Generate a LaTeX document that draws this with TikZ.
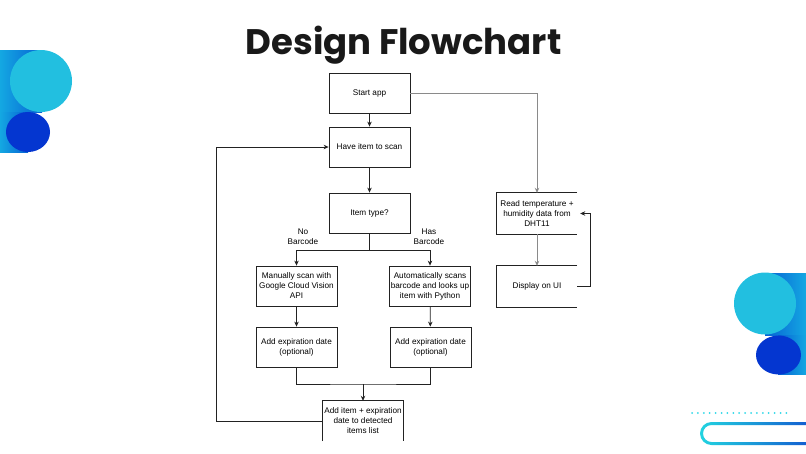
\documentclass[tikz,border=0pt]{standalone}
\usepackage{fontspec}
\setmainfont{Liberation Sans}
\newfontfamily\titlefont{Poppins}
\usetikzlibrary{arrows.meta}
\definecolor{cyanL}{HTML}{22BFE0}
\definecolor{darkB}{HTML}{0436D0}
\definecolor{barA}{HTML}{14A8E2}
\definecolor{barB}{HTML}{0762D4}
\definecolor{dotc}{HTML}{2ED8E8}
\definecolor{ringA}{HTML}{22D3E0}
\definecolor{ringB}{HTML}{1040CC}
\definecolor{linec}{HTML}{222222}
\definecolor{greyline}{HTML}{8A8A8A}
\begin{document}
\begin{tikzpicture}[x=1pt,y=-1pt,
  box/.style={draw=linec, line width=0.8pt, minimum width=81pt, minimum height=40pt,
    align=center, inner sep=1pt, font=\fontsize{8.2}{10}\selectfont},
  openbox/.style={minimum width=80pt, minimum height=41pt,
    align=center, inner sep=1pt, font=\fontsize{8.2}{10}\selectfont},
  lbl/.style={align=center, inner sep=0pt, font=\fontsize{8.2}{10}\selectfont},
  conn/.style={draw=linec, line width=0.8pt},
  arr/.style={conn, -{Stealth[length=5pt,width=4.5pt]}},
  garr/.style={draw=greyline, line width=0.8pt, -{Stealth[length=5pt,width=4.5pt]}, color=greyline}
]
\useasboundingbox (0,0) rectangle (806,453);
\fill[white] (0,0) rectangle (806,453);

\begin{scope}
\clip (0,0) rectangle (806,453);
% left decoration
\shade[left color=barA, right color=barB] (0,50) rectangle (42,112);
\shade[left color=barA, right color=barB] (0,112) rectangle (28,152);
\fill[cyanL] (41,81) circle (31pt);
\fill[darkB] (28,132) ellipse (22pt and 20pt);
% right decoration
\shade[left color=barB, right color=barA] (765,273) rectangle (806,335);
\shade[left color=barB, right color=barA] (778,335) rectangle (806,374);
\fill[cyanL] (765,303.5) circle (31pt);
\fill[darkB] (778.5,355) ellipse (22.5pt and 19.5pt);
% dotted line
\foreach \i in {0,...,16} \fill[dotc] (692+\i*5.9,413) circle (1pt);
% ring
\shade[left color=ringA, right color=ringB, even odd rule]
  {[rounded corners=11.5pt] (700,422) rectangle (835,445)}
  {[rounded corners=8.5pt] (703,425) rectangle (832,442)};
\end{scope}

% title
\node[anchor=base, inner sep=0pt, font=\titlefont\bfseries\fontsize{35.5}{40}\selectfont, text=black!90] (title) at (403.5,54) {Design Flowchart};

% boxes
\node[box] (start) at (369.5,93) {Start app};
\node[box] (have) at (369.5,147) {Have item to scan};
\node[box] (type) at (369.5,213) {Item type?};
\node[box] (manual) at (296.5,286) {Manually scan with\\Google Cloud Vision\\API};
\node[box] (auto) at (430,286) {Automatically scans\\barcode and looks up\\item with Python};
\node[box] (mexp) at (296.5,347) {Add expiration date\\(optional)};
\node[box] (aexp) at (430.5,347) {Add expiration date\\(optional)};
\node[openbox, minimum width=80pt, minimum height=40pt] (add) at (363,421) {Add item + expiration\\date to detected\\items list};
\draw[conn] (add.south west) -- (add.north west) -- (add.north east) -- (add.south east);
\node[openbox] (read) at (537,213.5) {Read temperature +\\humidity data from\\DHT11};
\draw[conn] (read.north east) -- (read.north west) -- (read.south west) -- (read.south east);
\node[openbox] (disp) at (537,286.5) {Display on UI};
\draw[conn] (disp.north east) -- (disp.north west) -- (disp.south west) -- (disp.south east);

% labels
\node[lbl] (nob) at (303,237) {No\\Barcode};
\node[lbl] (hasb) at (429,237) {Has\\Barcode};

% connectors
\draw[arr] (start) -- (have);
\draw[arr] (have) -- (type);
\coordinate (br) at (369.5,250);
\draw[conn] (type.south) -- (br);
\draw[arr] (br) -| (manual.north);
\draw[arr] (br) -| (auto.north);
\draw[arr] (manual) -- (mexp);
\draw[arr] (auto) -- (aexp);
\coordinate (mj) at (363,384);
\draw[conn] (mexp.south) |- (mj) -| (aexp.south);
\draw[arr] (mj) -- (add.north);
\coordinate (lp) at (216,421);
\draw[arr] (add.west) -- (lp) |- (have.west);
\draw[garr] (start.east) -| (read.north);
\draw[garr] (read) -- (disp);
\coordinate (fb) at (590,286.5);
\draw[arr] (disp.east) -- (fb) |- ([xshift=3pt]read.east);
\end{tikzpicture}
\end{document}
